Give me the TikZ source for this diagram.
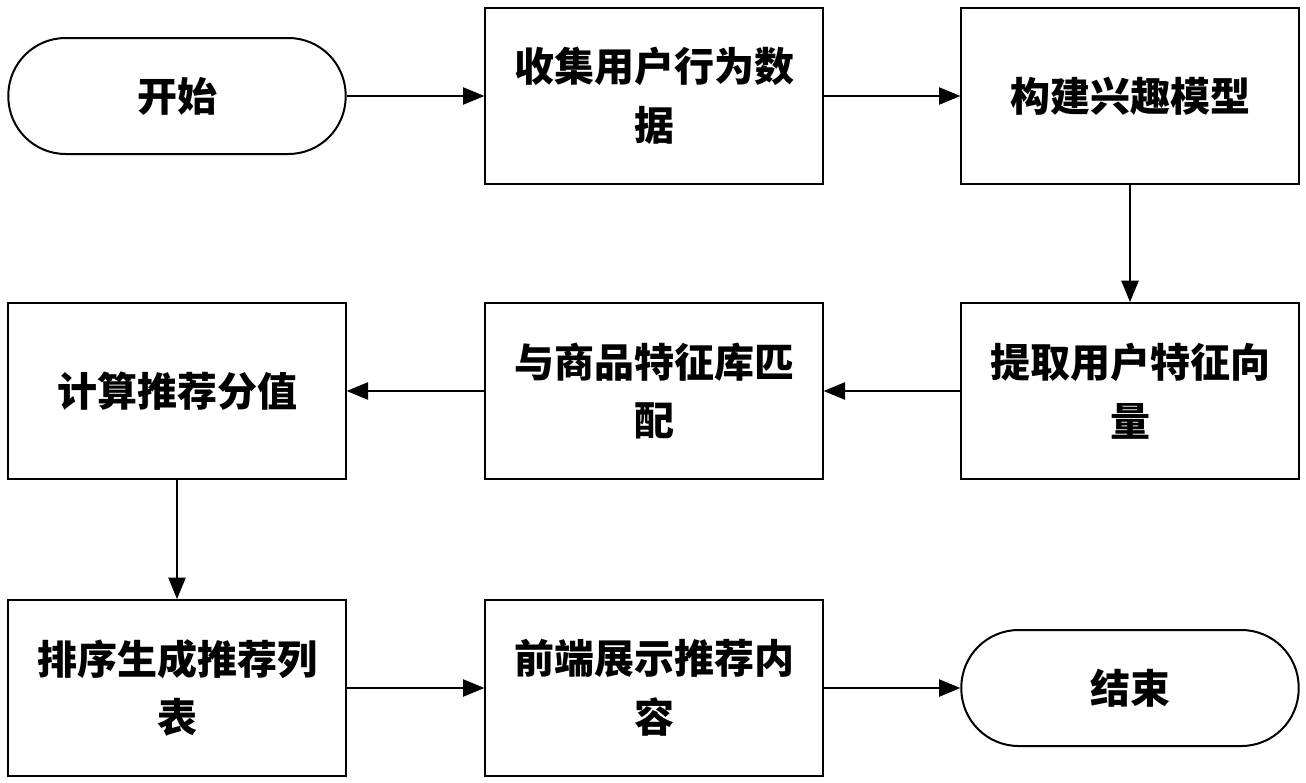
\documentclass[tikz,border=0pt]{standalone}
\usepackage{fontspec}
\newfontfamily\cjk{Noto Sans CJK SC}
\usetikzlibrary{positioning, arrows.meta, shapes}

\begin{document}
\begin{tikzpicture}[x=0.75pt, y=-0.75pt,
  box/.style={draw, line width=1.5pt, minimum width=253pt, minimum height=132pt, align=center, font=\cjk\bfseries\fontsize{30}{44}\selectfont, inner sep=0pt},
  term/.style={box, rounded corners=43pt, minimum height=87pt},
  flow/.style={-{Triangle[length=16pt, width=13pt]}, line width=1pt}]
  \useasboundingbox (0,0) rectangle (1306,782);
  \node[term] (start) at (177,96) {开始};
  \node[box] (collect) at (654,96) {收集用户行为数\\据};
  \node[box] (model) at (1130,96) {构建兴趣模型};

  \node[box] (vector) at (1130,391) {提取用户特征向\\量};
  \node[box] (match) at (654,391) {与商品特征库匹\\配};
  \node[box] (score) at (177,391) {计算推荐分值};

  \node[box] (sort) at (177,688) {排序生成推荐列\\表};
  \node[box] (show) at (654,688) {前端展示推荐内\\容};
  \node[term] (stop) at (1130,688) {结束};

  \draw[flow] (start) -- (collect);
  \draw[flow] (collect) -- (model);
  \draw[flow] (model) -- (vector);
  \draw[flow] (vector) -- (match);
  \draw[flow] (match) -- (score);
  \draw[flow] (score) -- (sort);
  \draw[flow] (sort) -- (show);
  \draw[flow] (show) -- (stop);
\end{tikzpicture}
\end{document}
